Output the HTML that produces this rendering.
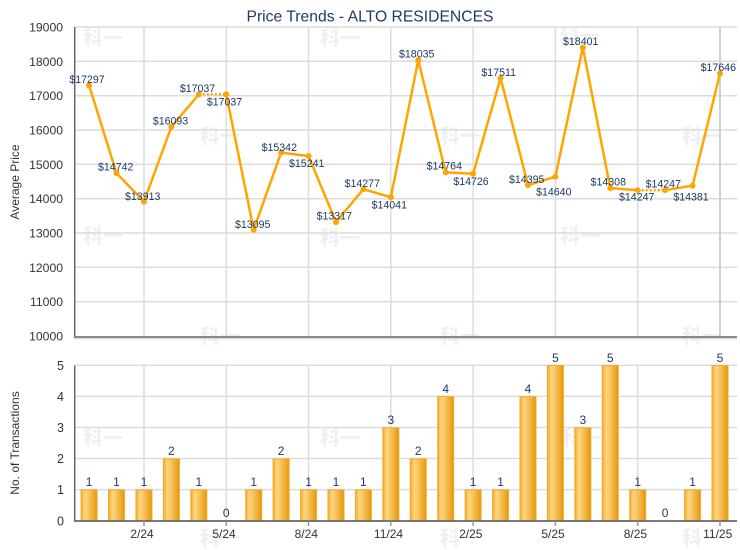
<!DOCTYPE html>
<html><head><meta charset="utf-8"><style>
html,body{margin:0;padding:0;background:#fff;}
svg{display:block;}
text{font-family:"Liberation Sans","Noto Sans CJK SC",sans-serif;}
</style></head><body>
<svg width="740" height="550" viewBox="0 0 740 550" xmlns="http://www.w3.org/2000/svg">
<defs>
<linearGradient id="bg" x1="0" x2="1" y1="0" y2="0">
<stop offset="0" stop-color="#f2ac2c"/>
<stop offset="0.25" stop-color="#fdd584"/>
<stop offset="0.55" stop-color="#f6bf52"/>
<stop offset="1" stop-color="#e2980f"/>
</linearGradient>
</defs>
<!-- watermarks -->
<g fill="#efefef" font-size="20" font-weight="bold" font-family="'Noto Sans CJK SC',sans-serif">
<text x="83" y="45">科一</text><text x="320" y="45">科一</text><text x="560" y="43">科一</text>
<text x="200" y="143">科一</text><text x="440" y="143">科一</text><text x="682" y="143">科一</text>
<text x="83" y="243">科一</text><text x="320" y="245">科一</text><text x="560" y="243">科一</text>
<text x="200" y="343">科一</text><text x="440" y="343">科一</text><text x="682" y="343">科一</text>
<text x="83" y="445">科一</text><text x="320" y="445">科一</text><text x="562" y="445">科一</text>
<text x="200" y="545">科一</text><text x="440" y="545">科一</text><text x="682" y="545">科一</text>
</g>
<!-- title -->
<text x="370" y="21.5" font-size="15.7" fill="#1f3b63" text-anchor="middle">Price Trends - ALTO RESIDENCES</text>
<!-- top grid -->
<g stroke="#dcdcdc" stroke-width="1.5">
<line x1="75" y1="27" x2="737" y2="27"/>
<line x1="75" y1="61.3" x2="737" y2="61.3"/>
<line x1="75" y1="95.7" x2="737" y2="95.7"/>
<line x1="75" y1="130" x2="737" y2="130"/>
<line x1="75" y1="164.3" x2="737" y2="164.3"/>
<line x1="75" y1="198.7" x2="737" y2="198.7"/>
<line x1="75" y1="233" x2="737" y2="233"/>
<line x1="75" y1="267.3" x2="737" y2="267.3"/>
<line x1="75" y1="301.7" x2="737" y2="301.7"/>
<line x1="144" y1="27" x2="144" y2="336"/>
<line x1="226.3" y1="27" x2="226.3" y2="336"/>
<line x1="308.5" y1="27" x2="308.5" y2="336"/>
<line x1="390.8" y1="27" x2="390.8" y2="336"/>
<line x1="473.1" y1="27" x2="473.1" y2="336"/>
<line x1="555.4" y1="27" x2="555.4" y2="336"/>
<line x1="637.7" y1="27" x2="637.7" y2="336"/>
<line x1="720" y1="27" x2="720" y2="336" stroke="#d0d0d0" stroke-width="2"/>
</g>
<line x1="74.7" y1="27" x2="74.7" y2="338" stroke="#666" stroke-width="1.5"/>
<line x1="74" y1="337" x2="737" y2="337" stroke="#8a8a8a" stroke-width="2"/>
<line x1="74" y1="338.7" x2="737" y2="338.7" stroke="#d5d5d5" stroke-width="1.2"/>
<!-- top y labels -->
<g font-size="12.2" fill="#333" text-anchor="end">
<text x="63" y="31.5">19000</text>
<text x="63" y="65.8">18000</text>
<text x="63" y="100.2">17000</text>
<text x="63" y="134.5">16000</text>
<text x="63" y="168.8">15000</text>
<text x="63" y="203.2">14000</text>
<text x="63" y="237.5">13000</text>
<text x="63" y="271.8">12000</text>
<text x="63" y="306.2">11000</text>
<text x="63" y="340.5">10000</text>
</g>
<text transform="translate(19,182) rotate(-90)" font-size="12" fill="#333" text-anchor="middle">Average Price</text>
<!-- line -->
<g fill="none" stroke="#ffa500" stroke-width="2.5" stroke-linejoin="round">
<polyline points="89.1,85.47 116.53,173.19 143.96,201.65 171.39,126.81 198.82,94.4"/>
<polyline points="226.25,94.4 253.68,229.74 281.11,152.59 308.54,156.06 335.97,222.11 363.4,189.15 390.83,197.26 418.26,60.13 445.69,172.43 473.12,173.74 500.55,78.12 527.98,185.1 555.41,176.69 582.84,47.57 610.27,188.09 637.7,190.19"/>
<polyline points="665.13,190.19 692.56,185.58 719.99,73.49"/>
</g>
<g fill="none" stroke="#ffa500" stroke-width="2.5" stroke-dasharray="2,2">
<line x1="198.82" y1="94.4" x2="226.25" y2="94.4"/>
<line x1="637.7" y1="190.19" x2="665.13" y2="190.19"/>
</g>
<g fill="#ffa500">
<circle cx="89.1" cy="85.47" r="3"/><circle cx="116.53" cy="173.19" r="3"/><circle cx="143.96" cy="201.65" r="3"/><circle cx="171.39" cy="126.81" r="3"/><circle cx="198.82" cy="94.4" r="3"/><circle cx="226.25" cy="94.4" r="3"/><circle cx="253.68" cy="229.74" r="3"/><circle cx="281.11" cy="152.59" r="3"/><circle cx="308.54" cy="156.06" r="3"/><circle cx="335.97" cy="222.11" r="3"/><circle cx="363.4" cy="189.15" r="3"/><circle cx="390.83" cy="197.26" r="3"/><circle cx="418.26" cy="60.13" r="3"/><circle cx="445.69" cy="172.43" r="3"/><circle cx="473.12" cy="173.74" r="3"/><circle cx="500.55" cy="78.12" r="3"/><circle cx="527.98" cy="185.1" r="3"/><circle cx="555.41" cy="176.69" r="3"/><circle cx="582.84" cy="47.57" r="3"/><circle cx="610.27" cy="188.09" r="3"/><circle cx="637.7" cy="190.19" r="3"/><circle cx="665.13" cy="190.19" r="3"/><circle cx="692.56" cy="185.58" r="3"/><circle cx="719.99" cy="73.49" r="3"/>
</g>
<g font-size="10.6" fill="#1b3a66" text-anchor="middle">
<text x="87" y="83.1">$17297</text>
<text x="115.7" y="170.5">$14742</text>
<text x="142.7" y="199.8">$13913</text>
<text x="170.5" y="124.5">$16093</text>
<text x="197.5" y="91.8">$17037</text>
<text x="224.5" y="105.5">$17037</text>
<text x="252.7" y="227.8">$13095</text>
<text x="279.3" y="150.8">$15342</text>
<text x="306.7" y="167.1">$15241</text>
<text x="334.3" y="219.5">$13317</text>
<text x="362.3" y="186.8">$14277</text>
<text x="389.3" y="208.5">$14041</text>
<text x="416.7" y="57.5">$18035</text>
<text x="444.3" y="169.5">$14764</text>
<text x="471" y="184.8">$14726</text>
<text x="498.7" y="75.8">$17511</text>
<text x="526.7" y="182.8">$14395</text>
<text x="553.8" y="195.5">$14640</text>
<text x="580.7" y="45.1">$18401</text>
<text x="608.3" y="185.5">$14308</text>
<text x="636.7" y="200.5">$14247</text>
<text x="663.3" y="187.5">$14247</text>
<text x="691" y="200.5">$14381</text>
<text x="718.3" y="70.8">$17646</text>
</g>
<!-- bottom grid -->
<g stroke="#dcdcdc" stroke-width="1.5">
<line x1="75" y1="365.3" x2="737" y2="365.3"/>
<line x1="75" y1="396.4" x2="737" y2="396.4"/>
<line x1="75" y1="427.5" x2="737" y2="427.5"/>
<line x1="75" y1="458.5" x2="737" y2="458.5"/>
<line x1="75" y1="489.6" x2="737" y2="489.6"/>
<line x1="144" y1="365" x2="144" y2="521"/>
<line x1="226.3" y1="365" x2="226.3" y2="521"/>
<line x1="308.5" y1="365" x2="308.5" y2="521"/>
<line x1="390.8" y1="365" x2="390.8" y2="521"/>
<line x1="473.1" y1="365" x2="473.1" y2="521"/>
<line x1="555.4" y1="365" x2="555.4" y2="521"/>
<line x1="637.7" y1="365" x2="637.7" y2="521"/>
<line x1="720" y1="365" x2="720" y2="521"/>
</g>
<!-- bars -->
<g fill="url(#bg)" stroke="#f5a921" stroke-width="1">
<rect x="81.1" y="489.9" width="16" height="31.1"/>
<rect x="108.53" y="489.9" width="16" height="31.1"/>
<rect x="135.96" y="489.9" width="16" height="31.1"/>
<rect x="163.39" y="458.9" width="16" height="62.1"/>
<rect x="190.82" y="489.9" width="16" height="31.1"/>
<rect x="245.68" y="489.9" width="16" height="31.1"/>
<rect x="273.11" y="458.9" width="16" height="62.1"/>
<rect x="300.54" y="489.9" width="16" height="31.1"/>
<rect x="327.97" y="489.9" width="16" height="31.1"/>
<rect x="355.4" y="489.9" width="16" height="31.1"/>
<rect x="382.83" y="427.8" width="16" height="93.2"/>
<rect x="410.26" y="458.9" width="16" height="62.1"/>
<rect x="437.69" y="396.7" width="16" height="124.3"/>
<rect x="465.12" y="489.9" width="16" height="31.1"/>
<rect x="492.55" y="489.9" width="16" height="31.1"/>
<rect x="519.98" y="396.7" width="16" height="124.3"/>
<rect x="547.41" y="365.6" width="16" height="155.4"/>
<rect x="574.84" y="427.8" width="16" height="93.2"/>
<rect x="602.27" y="365.6" width="16" height="155.4"/>
<rect x="629.7" y="489.9" width="16" height="31.1"/>
<rect x="684.56" y="489.9" width="16" height="31.1"/>
<rect x="711.99" y="365.6" width="16" height="155.4"/>
</g>
<g font-size="12" fill="#1b3a66" text-anchor="middle">
<text x="89.1" y="486">1</text>
<text x="116.53" y="486">1</text>
<text x="143.96" y="486">1</text>
<text x="171.39" y="455">2</text>
<text x="198.82" y="486">1</text>
<text x="226.25" y="517">0</text>
<text x="253.68" y="486">1</text>
<text x="281.11" y="455">2</text>
<text x="308.54" y="486">1</text>
<text x="335.97" y="486">1</text>
<text x="363.4" y="486">1</text>
<text x="390.83" y="424">3</text>
<text x="418.26" y="455">2</text>
<text x="445.69" y="393">4</text>
<text x="473.12" y="486">1</text>
<text x="500.55" y="486">1</text>
<text x="527.98" y="393">4</text>
<text x="555.41" y="362">5</text>
<text x="582.84" y="424">3</text>
<text x="610.27" y="362">5</text>
<text x="637.7" y="486">1</text>
<text x="665.13" y="517">0</text>
<text x="692.56" y="486">1</text>
<text x="719.99" y="362">5</text>
</g>
<line x1="74.7" y1="365.5" x2="74.7" y2="521.5" stroke="#666" stroke-width="1.5"/>
<line x1="74" y1="521" x2="737" y2="521" stroke="#666" stroke-width="1.8"/>
<g stroke="#999" stroke-width="1.5">
<line x1="144" y1="521" x2="144" y2="526"/>
<line x1="226.3" y1="521" x2="226.3" y2="526"/>
<line x1="308.5" y1="521" x2="308.5" y2="526"/>
<line x1="390.8" y1="521" x2="390.8" y2="526"/>
<line x1="473.1" y1="521" x2="473.1" y2="526"/>
<line x1="555.4" y1="521" x2="555.4" y2="526"/>
<line x1="637.7" y1="521" x2="637.7" y2="526"/>
<line x1="720" y1="521" x2="720" y2="526"/>
</g>
<g font-size="12.5" fill="#333" text-anchor="end">
<text x="64" y="370">5</text>
<text x="64" y="401">4</text>
<text x="64" y="432">3</text>
<text x="64" y="463">2</text>
<text x="64" y="494">1</text>
<text x="64" y="525.5">0</text>
</g>
<text transform="translate(19,443) rotate(-90)" font-size="12" fill="#333" text-anchor="middle">No. of Transactions</text>
<g font-size="12" fill="#333" text-anchor="middle">
<text x="142" y="538">2/24</text>
<text x="224" y="538">5/24</text>
<text x="306.3" y="538">8/24</text>
<text x="388.5" y="538">11/24</text>
<text x="470.8" y="538">2/25</text>
<text x="553" y="538">5/25</text>
<text x="635.4" y="538">8/25</text>
<text x="717.7" y="538">11/25</text>
</g>
</svg>
</body></html>
